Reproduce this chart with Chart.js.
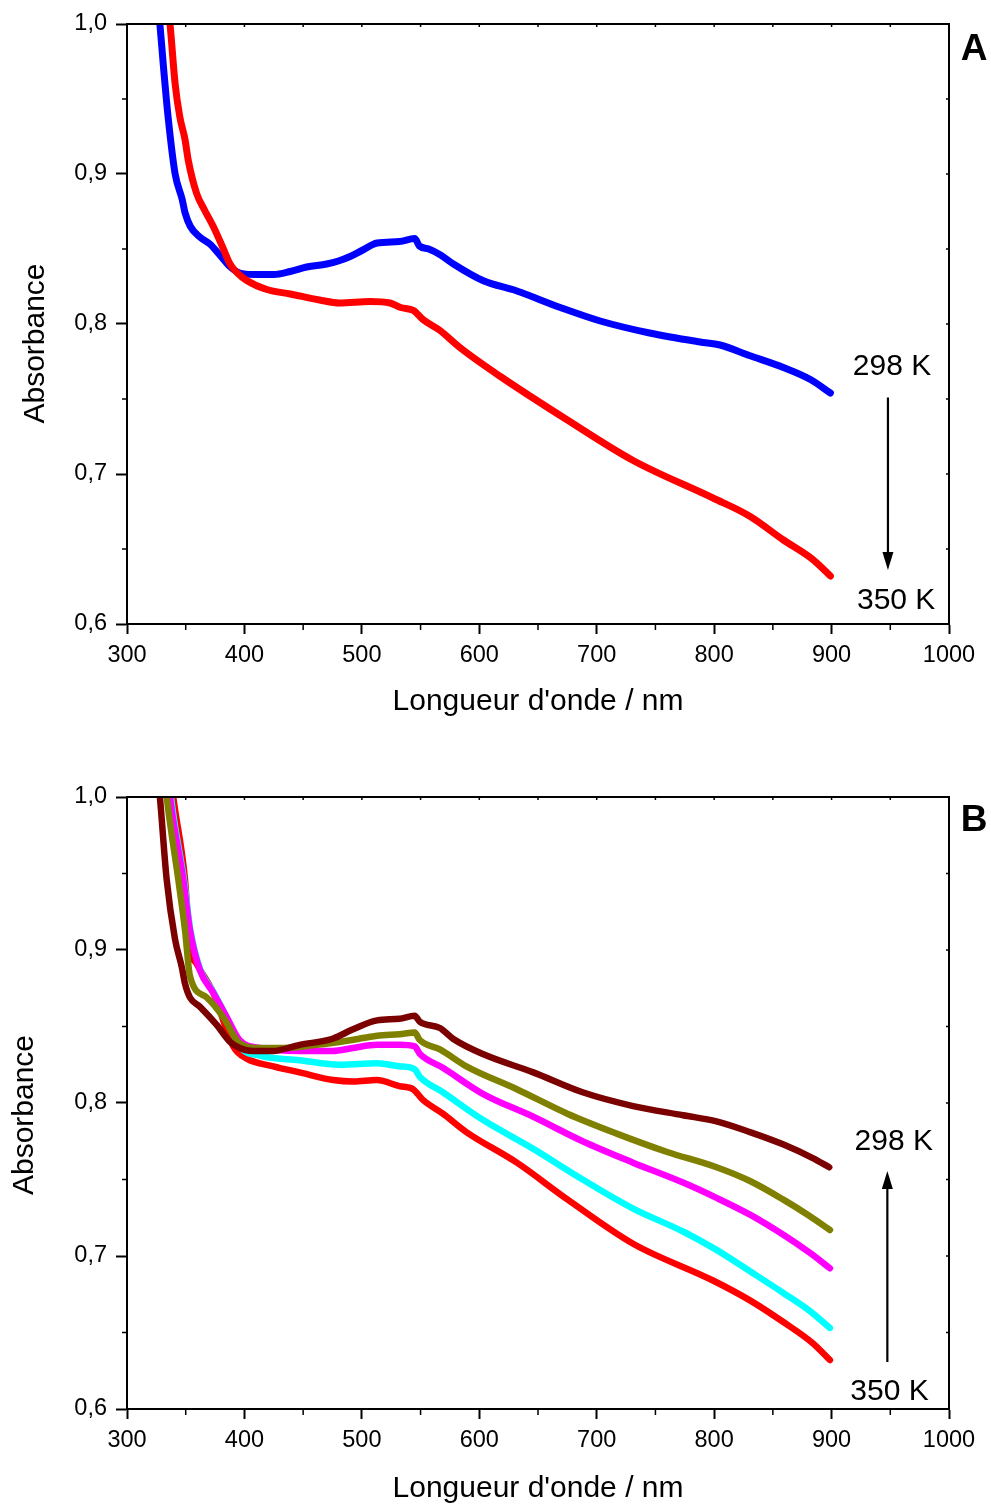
<!DOCTYPE html>
<html>
<head>
<meta charset="utf-8">
<script src="https://cdn.jsdelivr.net/npm/chart.js@4.4.1/dist/chart.umd.min.js"></script>
<style>
  html, body { margin: 0; padding: 0; background: #fff; }
  canvas { position: absolute; left: 0; }
  #panelA { top: 0; }
  #panelB { top: 760px; }
</style>
</head>
<body>
<canvas id="panelA" width="991" height="760"></canvas>
<canvas id="panelB" width="991" height="744"></canvas>
<script>
// ---- axes ----
const xTickValues = [300, 400, 500, 600, 700, 800, 900, 1000];
const xMinor = [350, 450, 550, 650, 750, 850, 950];
const yTickValues = [0.6, 0.7, 0.8, 0.9, 1.0];
const yTickLabels = ['0,6', '0,7', '0,8', '0,9', '1,0'];
const yMinor = [0.65, 0.75, 0.85, 0.95];

// ---- panel A : 298 K and 350 K ----
const wl298A = [324, 328, 331, 335, 341, 347, 349.5, 354, 362, 371, 379, 388, 396, 408, 425, 439, 453, 470, 480, 490, 500, 513, 532, 545, 549, 557, 567, 578, 603, 632, 669, 703, 745, 788, 805, 830, 859, 882, 899];
const abs298A = [1.03, 1.0, 0.972, 0.938, 0.900, 0.883, 0.874, 0.865, 0.858, 0.853, 0.846, 0.838, 0.834, 0.833, 0.833, 0.835, 0.838, 0.840, 0.842, 0.845, 0.849, 0.854, 0.855, 0.857, 0.852, 0.850, 0.846, 0.840, 0.829, 0.822, 0.811, 0.802, 0.794, 0.788, 0.786, 0.779, 0.771, 0.763, 0.754];
const wl350A = [332, 336.6, 341, 345, 349.4, 352.2, 359.3, 366, 373.5, 381, 387.7, 394, 402, 419, 439, 464, 481, 507, 524, 533, 544, 552, 566, 584, 618, 675, 731, 799, 830, 859, 884, 899];
const abs350A = [1.03, 1.0, 0.960, 0.938, 0.923, 0.909, 0.887, 0.876, 0.865, 0.852, 0.840, 0.834, 0.829, 0.823, 0.820, 0.816, 0.814, 0.815, 0.814, 0.811, 0.809, 0.803, 0.796, 0.784, 0.765, 0.736, 0.709, 0.684, 0.672, 0.656, 0.643, 0.632];

// ---- panel B : 298 K ... 350 K ----
const wlBrownB = [324, 328, 333.8, 340.9, 346.6, 349.4, 353.6, 362, 376.4, 387.7, 396, 407, 424, 447, 475, 492, 513, 532, 545, 549.5, 566.5, 577.6, 603, 646, 688, 731, 773.5, 802, 830.5, 858.6, 884, 898];
const absBrownB = [1.03, 1.0, 0.946, 0.907, 0.889, 0.878, 0.869, 0.863, 0.851, 0.840, 0.836, 0.834, 0.834, 0.838, 0.842, 0.848, 0.854, 0.855, 0.857, 0.853, 0.849, 0.842, 0.832, 0.820, 0.807, 0.798, 0.792, 0.788, 0.781, 0.773, 0.764, 0.758];
const wlOliveB = [330, 333.8, 343.7, 349.4, 353.6, 367.8, 382, 396, 413, 433, 461.5, 490, 513, 532, 545, 549.5, 566.5, 589, 632, 675, 717, 760, 802, 830.5, 858.6, 881.6, 898.6];
const absOliveB = [1.03, 1.0, 0.946, 0.913, 0.883, 0.869, 0.856, 0.839, 0.836, 0.836, 0.838, 0.841, 0.844, 0.845, 0.846, 0.841, 0.835, 0.824, 0.809, 0.793, 0.780, 0.768, 0.758, 0.749, 0.737, 0.726, 0.717];
const wlMagentaB = [333, 336.6, 347.9, 353.6, 362, 373.5, 385, 396, 413, 447, 475, 492.5, 513, 532, 545, 549.5, 569, 603, 646, 688, 731, 773.5, 802, 830.5, 858.6, 881.6, 898.6];
const absMagentaB = [1.03, 1.0, 0.946, 0.913, 0.887, 0.872, 0.856, 0.841, 0.836, 0.834, 0.834, 0.836, 0.838, 0.838, 0.837, 0.832, 0.823, 0.806, 0.791, 0.775, 0.761, 0.748, 0.738, 0.727, 0.714, 0.702, 0.692];
const wlCyanB = [334, 337.5, 348.5, 354, 362.5, 374, 385.5, 396, 413, 447, 481, 513, 532, 545, 549.5, 569, 603, 646, 688, 731, 773.5, 802, 830.5, 858.6, 881.6, 898.6];
const absCyanB = [1.03, 1.0, 0.946, 0.913, 0.887, 0.872, 0.855, 0.837, 0.831, 0.828, 0.825, 0.826, 0.824, 0.822, 0.817, 0.807, 0.789, 0.770, 0.750, 0.731, 0.716, 0.704, 0.690, 0.676, 0.664, 0.653];
const wlRedB = [335, 339.4, 349.4, 353.6, 359.3, 373.5, 390.5, 402, 424.6, 447, 475.7, 492.7, 512.7, 532, 543.6, 552, 569, 589, 632, 675, 731, 799, 830.5, 858.6, 884, 898.6];
const absRedB = [1.03, 1.0, 0.946, 0.902, 0.891, 0.872, 0.837, 0.829, 0.824, 0.820, 0.815, 0.814, 0.815, 0.811, 0.809, 0.802, 0.793, 0.781, 0.761, 0.737, 0.708, 0.684, 0.671, 0.657, 0.643, 0.632];

const FONT = "'Liberation Sans', Arial, sans-serif";
Chart.defaults.font.family = FONT;

function pts(wl, ab) {
  return wl.map((w, i) => ({ x: w, y: ab[i] }));
}

function series(wl, ab, color, width) {
  return {
    data: pts(wl, ab),
    borderColor: color,
    borderWidth: width,
    pointRadius: 0,
    tension: 0,
    cubicInterpolationMode: 'monotone',
    borderJoinStyle: 'round',
    borderCapStyle: 'round',
    clip: 0
  };
}

function drawArrow(ctx, x, y0, y1) {
  const dir = Math.sign(y1 - y0);
  const headLen = 18, half = 5.5;
  ctx.lineWidth = 2.2;
  ctx.beginPath();
  ctx.moveTo(x, y0);
  ctx.lineTo(x, y1 - dir * headLen);
  ctx.stroke();
  ctx.beginPath();
  ctx.moveTo(x, y1);
  ctx.lineTo(x - half, y1 - dir * headLen);
  ctx.lineTo(x + half, y1 - dir * headLen);
  ctx.closePath();
  ctx.fill();
}

const framePlugin = {
  id: 'frame',
  afterDraw(chart, args, o) {
    const { ctx, chartArea: a, scales: { x, y } } = chart;
    ctx.save();
    ctx.strokeStyle = '#000';
    ctx.fillStyle = '#000';

    // top and right frame
    ctx.lineWidth = 2;
    ctx.beginPath();
    ctx.moveTo(a.left, a.top);
    ctx.lineTo(a.right, a.top);
    ctx.lineTo(a.right, a.bottom);
    ctx.stroke();

    // minor ticks + small inner ticks on top/right
    ctx.lineWidth = 1.5;
    ctx.beginPath();
    xMinor.forEach(v => {
      const px = x.getPixelForValue(v);
      ctx.moveTo(px, a.bottom);
      ctx.lineTo(px, a.bottom + 6);
    });
    yMinor.forEach(v => {
      const py = y.getPixelForValue(v);
      ctx.moveTo(a.left - 5, py);
      ctx.lineTo(a.left, py);
    });
    xTickValues.concat(xMinor).forEach(v => {
      const px = x.getPixelForValue(v);
      ctx.moveTo(px, a.top);
      ctx.lineTo(px, a.top + 3);
    });
    yTickValues.concat(yMinor).forEach(v => {
      const py = y.getPixelForValue(v);
      ctx.moveTo(a.right - 3, py);
      ctx.lineTo(a.right, py);
    });
    ctx.stroke();

    // axis titles
    ctx.font = '30px ' + FONT;
    ctx.textAlign = 'center';
    ctx.textBaseline = 'alphabetic';
    ctx.fillText("Longueur d'onde / nm", (a.left + a.right) / 2, o.xTitleY);
    ctx.save();
    ctx.translate(o.yTitleX, o.yTitleY);
    ctx.rotate(-Math.PI / 2);
    ctx.fillText('Absorbance', 0, 0);
    ctx.restore();

    // panel letter
    ctx.font = 'bold 37px ' + FONT;
    ctx.fillText(o.letter, a.right + 25, o.letterY);

    // temperature labels and arrow
    ctx.font = '30px ' + FONT;
    o.labels.forEach(l => {
      ctx.fillText(l.text, x.getPixelForValue(l.x), y.getPixelForValue(l.y) + 10.7);
    });
    drawArrow(ctx, x.getPixelForValue(o.arrow.x), y.getPixelForValue(o.arrow.from), y.getPixelForValue(o.arrow.to));
    ctx.restore();
  }
};

function makeChart(id, datasets, padTop, xAxisHeight, frame) {
  return new Chart(document.getElementById(id), {
    type: 'line',
    data: { datasets },
    options: {
      responsive: false,
      animation: false,
      events: [],
      layout: { padding: { left: 0, right: 42, top: padTop, bottom: 0 } },
      plugins: {
        legend: { display: false },
        tooltip: { enabled: false },
        frame
      },
      scales: {
        x: {
          type: 'linear',
          min: 300,
          max: 1000,
          afterBuildTicks: s => { s.ticks = xTickValues.map(v => ({ value: v })); },
          afterFit: s => { s.height = xAxisHeight; },
          ticks: { color: '#000', font: { size: 23.5 }, padding: 7, maxRotation: 0, callback: v => String(v) },
          grid: { drawOnChartArea: false, drawTicks: true, tickLength: 10, tickColor: '#000', tickWidth: 2 },
          border: { display: true, color: '#000', width: 2 }
        },
        y: {
          type: 'linear',
          min: 0.6,
          max: 1.0,
          afterBuildTicks: s => { s.ticks = yTickValues.map(v => ({ value: v })); },
          afterFit: s => { s.width = 127; },
          ticks: { color: '#000', font: { size: 23.5 }, padding: 9, callback: (v, i) => yTickLabels[i] },
          grid: { drawOnChartArea: false, drawTicks: true, tickLength: 11, tickColor: '#000', tickWidth: 2 },
          border: { display: true, color: '#000', width: 2 }
        }
      }
    },
    plugins: [framePlugin]
  });
}

makeChart('panelA', [
  series(wl350A, abs350A, '#ff0000', 7),
  series(wl298A, abs298A, '#0000ff', 7)
], 24, 136, {
  letter: 'A', letterY: 60,
  xTitleY: 710, yTitleX: 44, yTitleY: 343.5,
  labels: [{ text: '298 K', x: 951.5, y: 0.773 }, { text: '350 K', x: 955, y: 0.617 }],
  arrow: { x: 948, from: 0.751, to: 0.636 }
});

makeChart('panelB', [
  series(wlBrownB, absBrownB, '#7b0000', 6.5),
  series(wlOliveB, absOliveB, '#808000', 6.5),
  series(wlMagentaB, absMagentaB, '#ff00ff', 6.5),
  series(wlCyanB, absCyanB, '#00ffff', 6.5),
  series(wlRedB, absRedB, '#ff0000', 6.5)
], 37, 95, {
  letter: 'B', letterY: 71,
  xTitleY: 737, yTitleX: 33, yTitleY: 355,
  labels: [{ text: '298 K', x: 953, y: 0.7765 }, { text: '350 K', x: 949.3, y: 0.6131 }],
  arrow: { x: 947.5, from: 0.6307, to: 0.7556 }
});
</script>
</body>
</html>
